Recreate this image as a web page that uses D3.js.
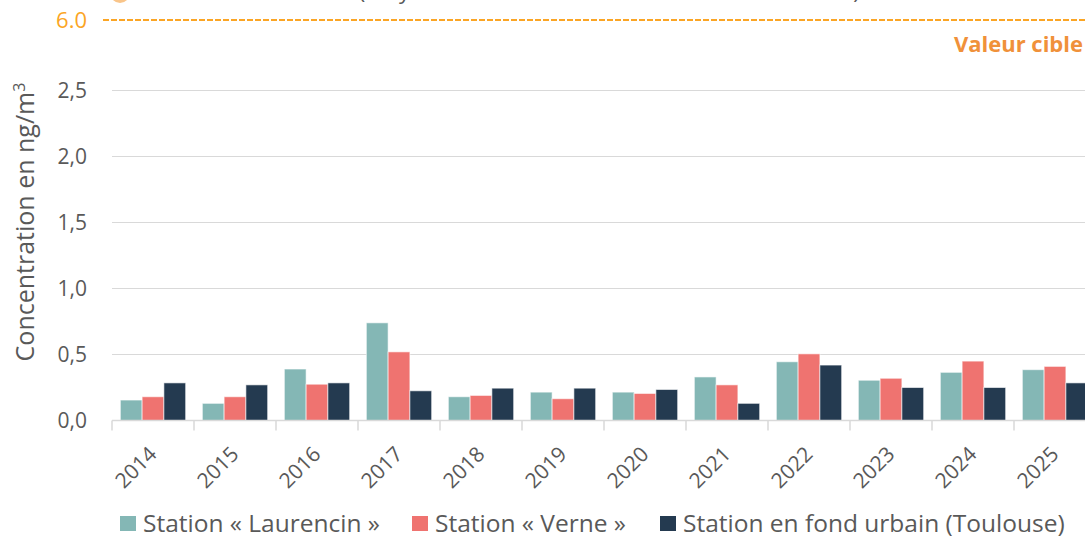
<!DOCTYPE html>
<html>
<head>
<meta charset="utf-8">
<script src="https://cdn.jsdelivr.net/npm/d3@7"></script>
<style>
  body { margin: 0; background: #fff; }
  svg { display: block; font-family: "Open Sans", sans-serif; }
</style>
</head>
<body>
<svg id="chart" width="1085" height="538"></svg>
<script>
// data
const years = ["2014","2015","2016","2017","2018","2019","2020","2021","2022","2023","2024","2025"];
const laurencin = [0.155, 0.13, 0.39, 0.74, 0.18, 0.215, 0.215, 0.33, 0.445, 0.305, 0.365, 0.385];
const verne     = [0.18, 0.18, 0.275, 0.52, 0.19, 0.165, 0.205, 0.27, 0.505, 0.32, 0.45, 0.41];
const toulouse  = [0.285, 0.27, 0.285, 0.225, 0.245, 0.245, 0.235, 0.13, 0.42, 0.25, 0.25, 0.285];
const seriesNames = ["Station « Laurencin »", "Station « Verne »", "Station en fond urbain (Toulouse)"];
const yTicks = [0, 0.5, 1.0, 1.5, 2.0, 2.5];
const targetValue = 6.0;

const colors = ["#84b7b5", "#ef7370", "#243a50"];
const orange = "#fba524";

const svg = d3.select("#chart");
const width = 1085, height = 538;
const margin = {left: 112, right: -11, top: 20, bottom: 117};

const data = years.map((y, i) => ({year: y, values: [laurencin[i], verne[i], toulouse[i]]}));

// scales
const x = d3.scaleBand()
  .domain(years)
  .range([margin.left, width - margin.right]);
const xInner = d3.scaleBand()
  .domain([0, 1, 2])
  .range([0, x.bandwidth()])
  .paddingOuter(0.5 * 14 / 18.3)
  .paddingInner(0);
// broken axis: 0-2.5 linear, then a jump up to the target value
const y = d3.scaleLinear()
  .domain([0, 2.5, targetValue])
  .range([420.5, 90.5, 20]);

const fmt = d => d3.format(".1f")(d).replace(".", ",");

// gridlines
svg.append("g")
  .selectAll("line")
  .data(yTicks.slice(1))
  .join("line")
  .attr("x1", margin.left).attr("x2", width)
  .attr("y1", d => y(d)).attr("y2", d => y(d))
  .attr("stroke", "#d9d9d9").attr("stroke-width", 1);

// y labels
svg.append("g")
  .selectAll("text")
  .data(yTicks)
  .join("text")
  .attr("x", 87)
  .attr("y", d => y(d))
  .attr("dy", "0.35em")
  .attr("text-anchor", "end")
  .attr("fill", "#595959")
  .style("font-size", "21px")
  .text(fmt);

// target line
svg.append("line")
  .attr("x1", 103).attr("x2", width)
  .attr("y1", y(targetValue)).attr("y2", y(targetValue))
  .attr("stroke", orange).attr("stroke-width", 2)
  .attr("stroke-dasharray", "6,2");
svg.append("text")
  .attr("x", 87).attr("y", y(targetValue)).attr("dy", "0.35em")
  .attr("text-anchor", "end")
  .attr("fill", orange)
  .style("font-size", "22px")
  .text(targetValue.toFixed(1));
svg.append("text")
  .attr("x", 1083).attr("y", y(targetValue) + 32)
  .attr("text-anchor", "end")
  .attr("fill", "#f0913a")
  .style("font-size", "22px").style("font-weight", "bold")
  .text("Valeur cible");

// legend line cut off at the very top (as in the original)
svg.append("circle")
  .attr("cx", 120).attr("cy", -7).attr("r", 10)
  .attr("fill", "#f9c58a");
svg.append("text")
  .attr("x", 140).attr("y", -1)
  .attr("fill", "#595959")
  .style("font-size", "22px")
  .text("Valeur cible annuelle (moyenne annuelle des teneurs mesurées en air)");

// bars
const groups = svg.append("g")
  .selectAll("g")
  .data(data)
  .join("g")
  .attr("transform", d => `translate(${x(d.year)},0)`);
groups.selectAll("rect")
  .data(d => d.values)
  .join("rect")
  .attr("x", (d, i) => xInner(i))
  .attr("width", xInner.bandwidth())
  .attr("y", d => y(d))
  .attr("height", d => y(0) - y(d))
  .attr("fill", (d, i) => colors[i])
  .attr("stroke", "rgba(255,255,255,0.6)")
  .attr("stroke-width", 1);

// x axis
svg.append("line")
  .attr("x1", margin.left).attr("x2", width)
  .attr("y1", y(0)).attr("y2", y(0))
  .attr("stroke", "#d9d9d9").attr("stroke-width", 1.5);
svg.append("g")
  .selectAll("line")
  .data(years)
  .join("line")
  .attr("x1", d => x(d)).attr("x2", d => x(d))
  .attr("y1", y(0)).attr("y2", y(0) + 10)
  .attr("stroke", "#d9d9d9").attr("stroke-width", 1.5);
svg.append("g")
  .selectAll("text")
  .data(years)
  .join("text")
  .attr("transform", d => `translate(${x(d) + x.bandwidth() / 2 + 5},${y(0) + 35}) rotate(-45)`)
  .attr("text-anchor", "end")
  .attr("fill", "#595959")
  .style("font-size", "21px")
  .text(d => d);

// y axis title
svg.append("text")
  .attr("transform", `translate(34,222) rotate(-90)`)
  .attr("text-anchor", "middle")
  .attr("fill", "#595959")
  .style("font-size", "25px")
  .html('Concentration en ng/m<tspan dy="-9" font-size="16px">3</tspan>');

// legend
const legendX = [120, 412, 660];
const legend = svg.append("g")
  .selectAll("g")
  .data(seriesNames)
  .join("g")
  .attr("transform", (d, i) => `translate(${legendX[i]},${524})`);
legend.append("rect")
  .attr("x", 0).attr("y", -8).attr("width", 16).attr("height", 15)
  .attr("fill", (d, i) => colors[i]);
legend.append("text")
  .attr("x", 23).attr("y", 8)
  .attr("fill", "#595959")
  .style("font-size", "24.5px")
  .text(d => d);
</script>
</body>
</html>
